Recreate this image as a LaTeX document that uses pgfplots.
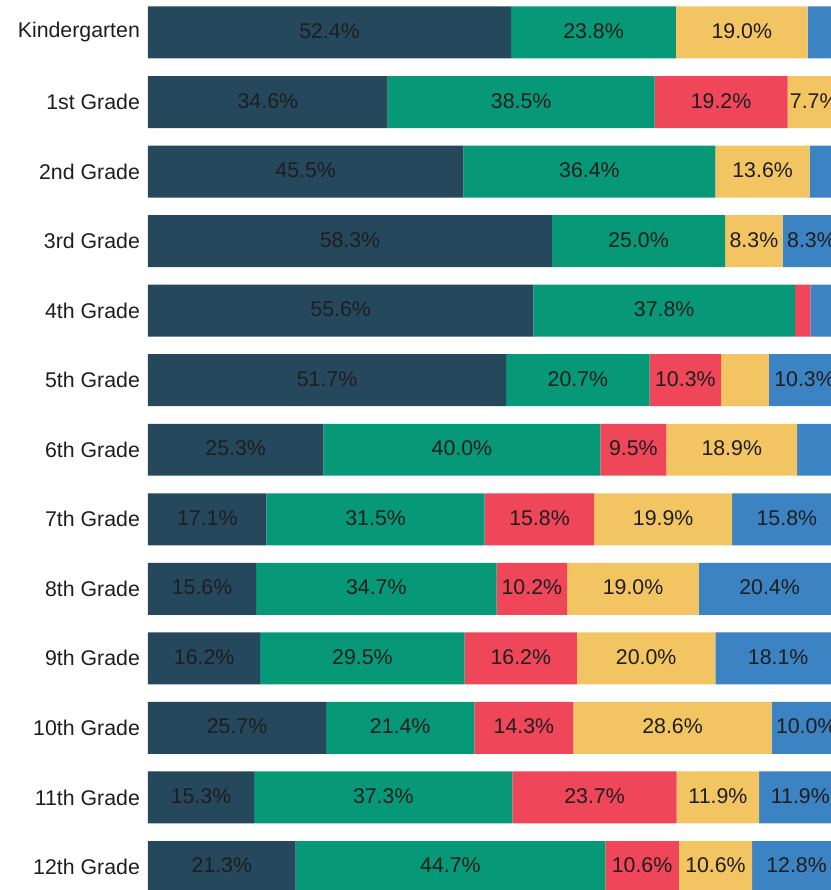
\documentclass[border=0pt]{standalone}
\usepackage{pgfplots}
\pgfplotsset{compat=1.18}
\usepackage{pgfplotstable}
\usepackage{fontspec}
\setmainfont{Liberation Sans}

\definecolor{cnavy}{HTML}{25485D}
\definecolor{cteal}{HTML}{079878}
\definecolor{cred}{HTML}{EF465A}
\definecolor{cyellow}{HTML}{F2C462}
\definecolor{cblue}{HTML}{3C83C4}
\definecolor{ctext}{HTML}{1E1E1E}

% row, then the five shares (%) left to right
\pgfplotstableread{
row a b c d e
0 52.4 23.8 0 19.0 4.8
1 34.6 38.5 19.2 7.7 0
2 45.5 36.4 0 13.6 4.5
3 58.3 25.0 0 8.3 8.3
4 55.6 37.8 2.2 0 4.4
5 51.7 20.7 10.3 6.9 10.3
6 25.3 40.0 9.5 18.9 6.3
7 17.1 31.5 15.8 19.9 15.8
8 15.6 34.7 10.2 19.0 20.4
9 16.2 29.5 16.2 20.0 18.1
10 25.7 21.4 14.3 28.6 10.0
11 15.3 37.3 23.7 11.9 11.9
12 21.3 44.7 10.6 10.6 12.8
}\grades

\begin{document}
\begin{tikzpicture}
\begin{axis}[
  xbar stacked, x=5.2pt, y=52.19pt, bar width=39pt,
  xmin=0, xmax=102, ymin=-0.5, ymax=12.5, y dir=reverse,
  enlargelimits=false,
  hide x axis, axis y line=left,
  y axis line style={draw=none}, ytick style={draw=none},
  ytick={0,...,12},
  yticklabels={Kindergarten,1st Grade,2nd Grade,3rd Grade,4th Grade,5th Grade,6th Grade,
    7th Grade,8th Grade,9th Grade,10th Grade,11th Grade,12th Grade},
  yticklabel style={font=\fontsize{16}{19}\selectfont, text=ctext, inner sep=0pt, xshift=-3.75pt},
  visualization depends on={rawx \as \rawval},
  nodes near coords={\ifdim\rawval pt<7pt\relax\else
    \pgfmathprintnumber[fixed,fixed zerofill,precision=1,assume math mode=true]{\rawval}\%\fi},
  every node near coord/.append style={anchor=center,
    font=\fontsize{16}{19}\selectfont, text=ctext, yshift=1pt},
  every axis plot/.append style={draw=none},
]
\addplot[fill=cnavy] table[x=a, y=row] {\grades};
\addplot[fill=cteal] table[x=b, y=row] {\grades};
\addplot[fill=cred] table[x=c, y=row] {\grades};
\addplot[fill=cyellow] table[x=d, y=row] {\grades};
\addplot[fill=cblue] table[x=e, y=row] {\grades};
\coordinate (BL) at (axis cs:-21.36,12.331);
\coordinate (TR) at (axis cs:98.51,-0.467);
\end{axis}
\pgfresetboundingbox
\useasboundingbox (BL) rectangle (TR);
\end{tikzpicture}
\end{document}
